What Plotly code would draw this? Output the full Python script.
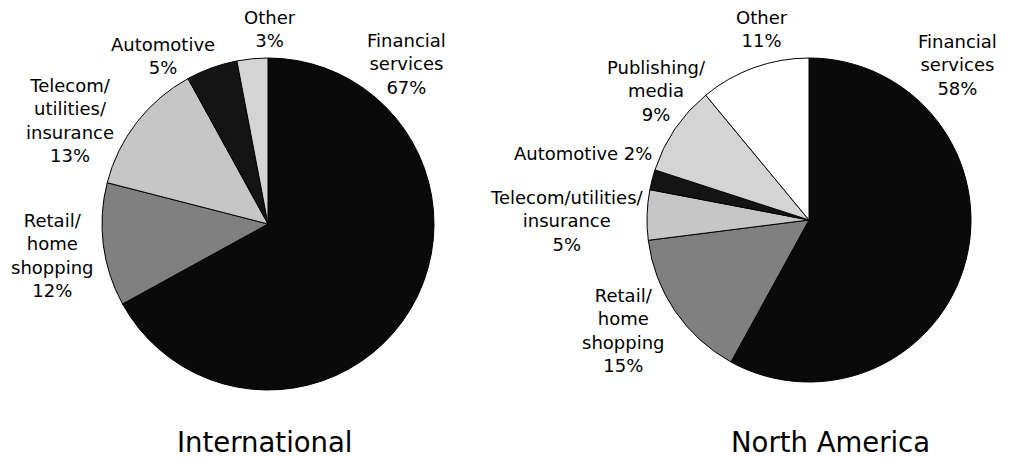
import plotly.graph_objects as go

W, H = 1020, 458
OFF = 8  # page body margin offset in the browser

# ---- data ----
intl_sectors = ["Financial services", "Retail/home shopping", "Telecom/utilities/insurance", "Automotive", "Other"]
intl_values = [67, 12, 13, 5, 3]

na_sectors = ["Financial services", "Retail/home shopping", "Telecom/utilities/insurance", "Automotive", "Publishing/media", "Other"]
na_values = [58, 15, 5, 2, 9, 11]

chart_titles = ["International", "North America"]

# display label text (line-broken) for each slice
intl_disp = ["Financial<br>services", "Retail/<br>home<br>shopping", "Telecom/<br>utilities/<br>insurance", "Automotive", "Other"]
na_disp = ["Financial<br>services", "Retail/<br>home<br>shopping", "Telecom/utilities/<br>insurance", "Automotive", "Publishing/<br>media", "Other"]
na_sep = ["<br>", "<br>", "<br>", " ", "<br>", "<br>"]

# ---- styles ----
intl_colors = ["#0a0a0a", "#808080", "#c6c6c6", "#141414", "#d4d4d4"]
na_colors = ["#0a0a0a", "#808080", "#c6c6c6", "#141414", "#d4d4d4", "#ffffff"]
FONT = "DejaVu Sans"

# label positions in screen pixels (center x, center y from top)
intl_pos = [(406, 64), (52, 255), (70, 121), (163, 56), (270, 29)]
na_pos = [(957, 65), (623, 330), (567, 221), (583, 153), (656, 91), (762, 29)]
title_pos = [(265, 442), (830, 442)]


def px(x, y):
    return (x - OFF) / W, 1 - (y - OFF) / H


def dom(cx, cy, r):
    cx -= OFF
    cy -= OFF
    return dict(x=[(cx - r) / W, (cx + r) / W], y=[(H - cy - r) / H, (H - cy + r) / H])


fig = go.Figure()
fig.add_trace(go.Pie(
    labels=intl_sectors, values=intl_values, sort=False, direction="clockwise", rotation=0,
    marker=dict(colors=intl_colors, line=dict(color="#000000", width=1)),
    textinfo="none", hoverinfo="label+percent", domain=dom(268, 224, 166), showlegend=False,
))
fig.add_trace(go.Pie(
    labels=na_sectors, values=na_values, sort=False, direction="clockwise", rotation=0,
    marker=dict(colors=na_colors, line=dict(color="#000000", width=1)),
    textinfo="none", hoverinfo="label+percent", domain=dom(809, 220, 162), showlegend=False,
))

annotations = []
for d, v, (x, y) in zip(intl_disp, intl_values, intl_pos):
    xp, yp = px(x, y)
    annotations.append(dict(text=f"{d}<br>{v}%", x=xp, y=yp, xref="paper", yref="paper",
                            xanchor="center", yanchor="middle", showarrow=False,
                            font=dict(family=FONT, size=18, color="#000000")))
for d, s, v, (x, y) in zip(na_disp, na_sep, na_values, na_pos):
    xp, yp = px(x, y)
    annotations.append(dict(text=f"{d}{s}{v}%", x=xp, y=yp, xref="paper", yref="paper",
                            xanchor="center", yanchor="middle", showarrow=False,
                            font=dict(family=FONT, size=18, color="#000000")))
for t, (x, y) in zip(chart_titles, title_pos):
    xp, yp = px(x, y)
    annotations.append(dict(text=t, x=xp, y=yp, xref="paper", yref="paper",
                            xanchor="center", yanchor="middle", showarrow=False,
                            font=dict(family=FONT, size=27.5, color="#000000")))

fig.update_layout(
    width=W, height=H, margin=dict(l=0, r=0, t=0, b=0),
    paper_bgcolor="#ffffff", plot_bgcolor="#ffffff",
    annotations=annotations, showlegend=False,
)

fig.write_html("out.html")
